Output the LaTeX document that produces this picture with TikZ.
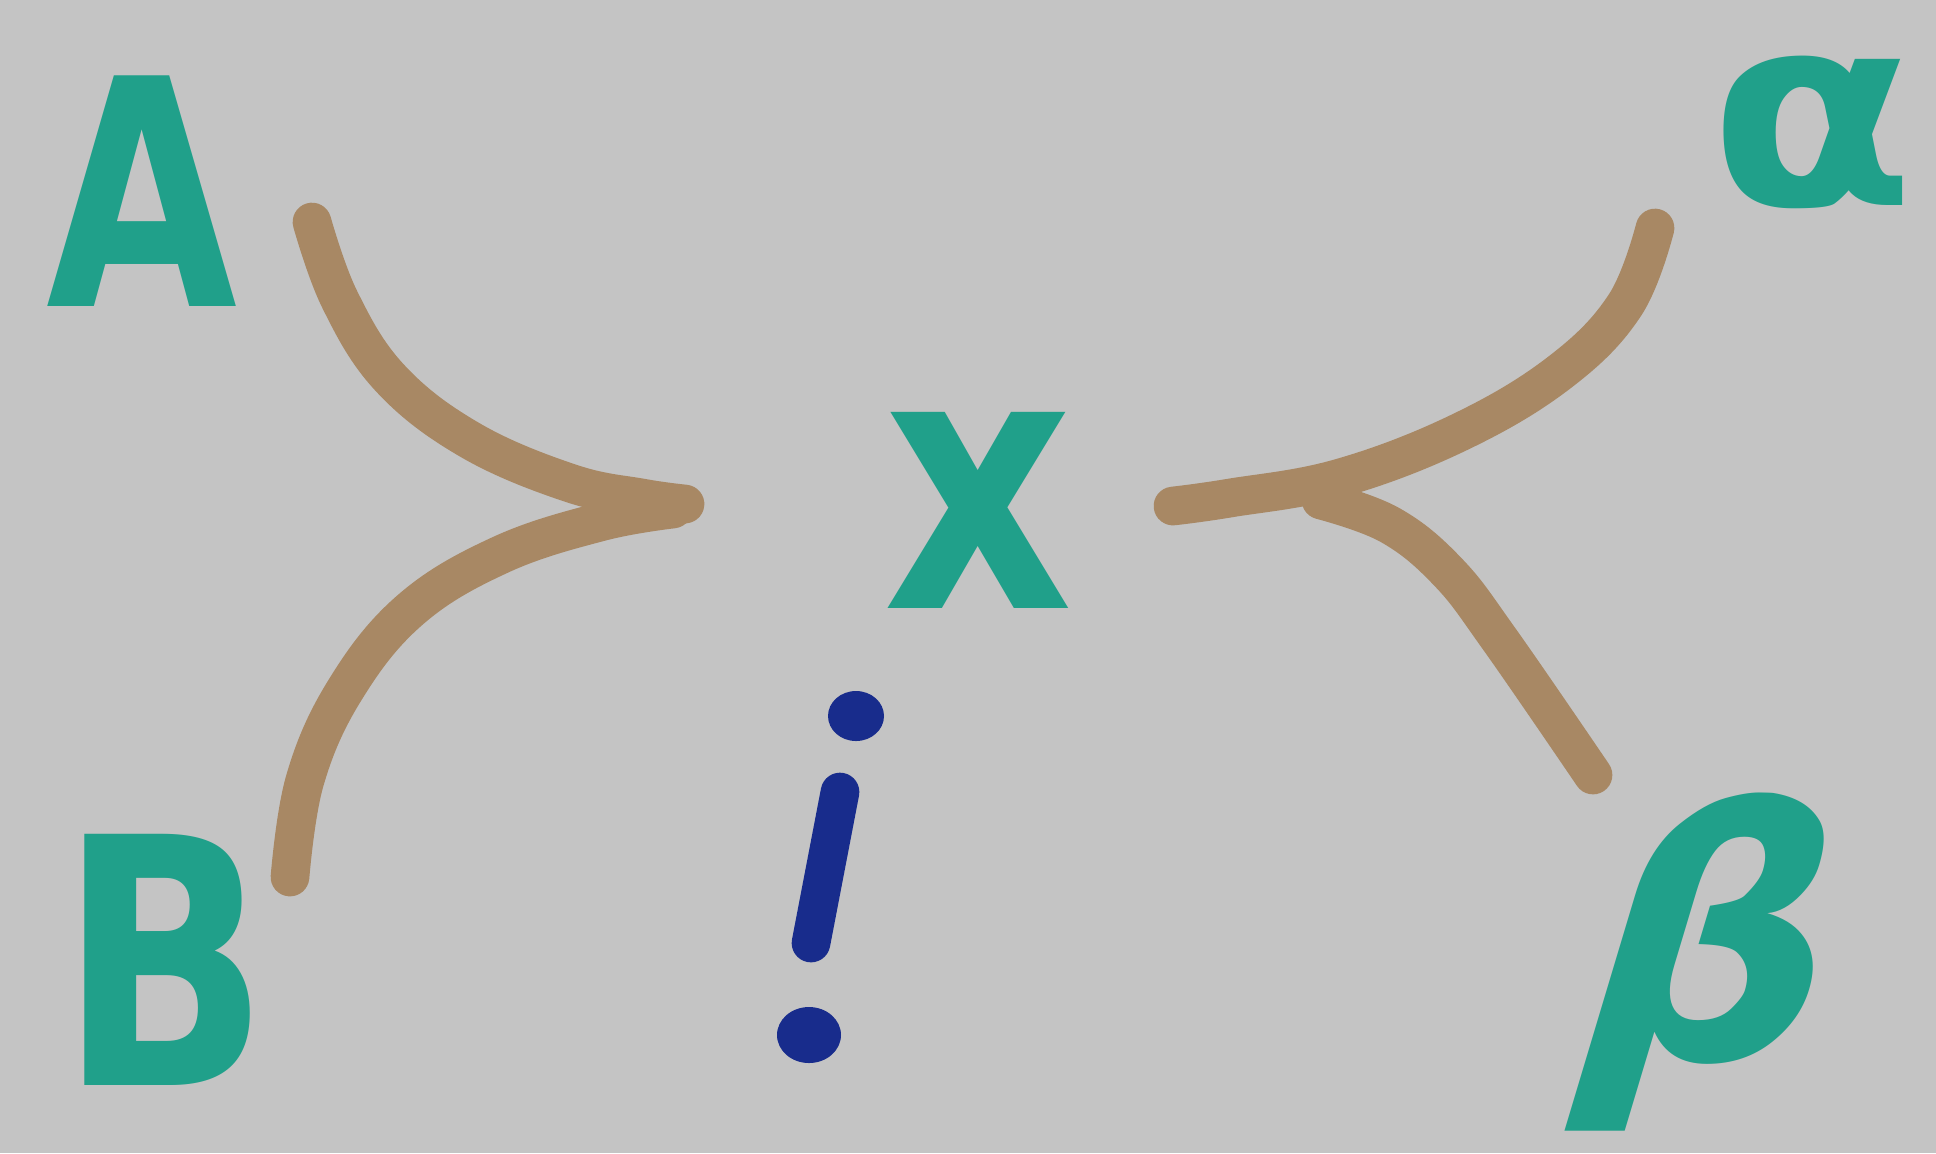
\documentclass[tikz,border=0pt]{standalone}
\usepackage{fontspec}
\setmainfont{DejaVu Sans}
\definecolor{board}{RGB}{196,196,196}
\definecolor{inkteal}{RGB}{32,160,138}
\definecolor{inkbrown}{RGB}{168,136,100}
\definecolor{inkblue}{RGB}{24,44,140}
\begin{document}
\begin{tikzpicture}[x=0.01cm,y=-0.01cm,
  lbl/.style={text=inkteal, inner sep=0pt, font=\bfseries\fontsize{90}{90}\selectfont},
  arm/.style={draw=inkbrown, line width=11pt, line cap=round, line join=round},
  ink/.style={fill=inkblue, draw=none}]
\fill[board] (0,0) rectangle (1936,1153);
\useasboundingbox (0,0) rectangle (1936,1153);
% labels
\node[lbl, xscale=0.78, transform shape] (A) at (142,191) {A};
\node[lbl, font=\bfseries\fontsize{98}{98}\selectfont, xscale=0.8, transform shape] (B) at (165,960) {B};
\node[lbl, font=\bfseries\fontsize{76}{76}\selectfont, xscale=1.12, transform shape] (alpha) at (1812,132) {α};
\node[lbl, font=\bfseries\fontsize{98}{98}\selectfont, xslant=0.3, transform shape] (beta) at (1710,962) {β};
\node[lbl, font=\bfseries\fontsize{102}{102}\selectfont, xscale=0.82, transform shape] (x) at (978,510) {x};
% brown arms, left
\draw[arm] plot[smooth, tension=0.65] coordinates {(312,222) (340,300) (390,378) (470,440) (570,483) (642,498) (685,504)};
\draw[arm] plot[smooth, tension=0.65] coordinates {(290,877) (305,780) (345,690) (410,610) (500,555) (600,522) (673,509)};
% brown arms, right
\draw[arm] plot[smooth, tension=0.65] coordinates {(1655,228) (1625,305) (1560,372) (1460,432) (1340,478) (1230,498) (1173,506)};
\draw[arm] plot[smooth, tension=0.65] coordinates {(1321,500) (1390,525) (1448,572) (1500,640) (1593,775)};
% blue mark
\fill[ink] (856,716) ellipse (28 and 25);
\draw[inkblue, line width=11pt, line cap=round] (840,792) -- (811,943);
\fill[ink] (809,1035) ellipse (32 and 28);
\end{tikzpicture}
\end{document}
